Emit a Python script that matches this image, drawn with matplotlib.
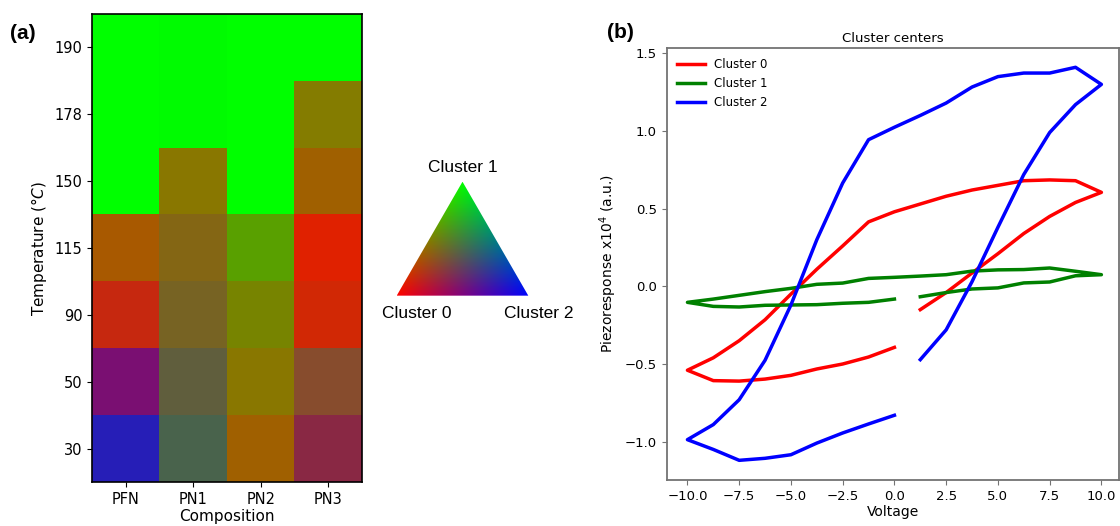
import numpy as np
import matplotlib
matplotlib.use('Agg')
import matplotlib.pyplot as plt
from matplotlib.patches import Polygon

# HEATMAP DATA (rows top to bottom follow temperatures)
compositions = ['PFN', 'PN1', 'PN2', 'PN3']
temperatures = ['190', '178', '150', '115', '90', '50', '30']

# fraction of each cluster per cell, one list per composition
cluster0_frac = {
    'PFN': [0.00, 0.00, 0.00, 0.66, 0.78, 0.48, 0.15],
    'PN1': [0.00, 0.00, 0.54, 0.52, 0.47, 0.38, 0.29],
    'PN2': [0.00, 0.00, 0.00, 0.35, 0.47, 0.54, 0.63],
    'PN3': [0.00, 0.52, 0.63, 0.88, 0.82, 0.53, 0.54],
}
cluster1_frac = {
    'PFN': [1.00, 1.00, 1.00, 0.35, 0.16, 0.06, 0.12],
    'PN1': [0.985, 0.985, 0.47, 0.40, 0.39, 0.37, 0.39],
    'PN2': [1.00, 1.00, 1.00, 0.63, 0.52, 0.47, 0.38],
    'PN3': [1.00, 0.49, 0.38, 0.13, 0.16, 0.30, 0.16],
}
cluster2_frac = {
    'PFN': [0.00, 0.00, 0.00, 0.00, 0.06, 0.45, 0.72],
    'PN1': [0.005, 0.005, 0.00, 0.08, 0.14, 0.24, 0.30],
    'PN2': [0.00, 0.00, 0.00, 0.00, 0.00, 0.00, 0.00],
    'PN3': [0.00, 0.00, 0.00, 0.00, 0.02, 0.18, 0.27],
}

# CLUSTER CENTER LOOPS
voltage = [1.25, 2.5, 3.75, 5.0, 6.25, 7.5, 8.75, 10.0,
           8.75, 7.5, 6.25, 5.0, 3.75, 2.5, 1.25, 0.0,
           -1.25, -2.5, -3.75, -5.0, -6.25, -7.5, -8.75, -10.0,
           -8.75, -7.5, -6.25, -5.0, -3.75, -2.5, -1.25, 0.0]
cluster0 = [-0.15, -0.04, 0.086, 0.21, 0.34, 0.45, 0.54, 0.605,
            0.68, 0.685, 0.68, 0.65, 0.62, 0.58, 0.53, 0.48,
            0.415, 0.26, 0.11, -0.05, -0.215, -0.35, -0.46, -0.54,
            -0.607, -0.61, -0.597, -0.573, -0.532, -0.50, -0.455, -0.393]
cluster1 = [-0.067, -0.04, -0.017, -0.01, 0.022, 0.028, 0.068, 0.075,
            0.097, 0.118, 0.108, 0.106, 0.098, 0.075, 0.066, 0.058,
            0.051, 0.021, 0.013, -0.013, -0.034, -0.058, -0.082, -0.103,
            -0.129, -0.133, -0.122, -0.12, -0.118, -0.109, -0.103, -0.082]
cluster2 = [-0.472, -0.28, 0.03, 0.38, 0.72, 0.99, 1.17, 1.30,
            1.41, 1.373, 1.373, 1.35, 1.283, 1.18, 1.10, 1.024,
            0.944, 0.665, 0.30, -0.12, -0.476, -0.73, -0.89, -0.987,
            -1.05, -1.12, -1.107, -1.084, -1.009, -0.944, -0.886, -0.83]

fig = plt.figure(figsize=(11.2, 5.26), dpi=100)

# (a) composition / temperature map
ax1 = fig.add_axes([0.0824, 0.0837, 0.2405, 0.8897])
rgb = np.zeros((len(temperatures), len(compositions), 3))
for j, comp in enumerate(compositions):
    rgb[:, j, 0] = cluster0_frac[comp]
    rgb[:, j, 1] = cluster1_frac[comp]
    rgb[:, j, 2] = cluster2_frac[comp]
ax1.imshow(np.clip(rgb, 0, 1), aspect='auto', interpolation='nearest')
ax1.set_xticks(range(len(compositions)))
ax1.set_xticklabels(compositions, fontsize=10.5)
ax1.set_yticks(range(len(temperatures)))
ax1.set_yticklabels(temperatures, fontsize=10.5)
ax1.set_xlabel('Composition', fontsize=11, labelpad=2)
ax1.set_ylabel(r'Temperature ($\degree C$)', fontsize=11)
for s in ax1.spines.values():
    s.set_linewidth(1.2)
fig.text(0.020, 0.937, '(a)', fontsize=15, fontweight='bold',
         family='Liberation Sans', ha='center', va='center')

# ternary colour key
ax_key = fig.add_axes([370 / 1120, 186 / 526, 220 / 1120, 200 / 526])
ax_key.axis('off')
h = np.sqrt(3) / 2
gx, gy = np.meshgrid(np.linspace(0, 1, 400), np.linspace(0, h, 350))
w1 = gy / h
w2 = gx - 0.5 * w1
w0 = 1 - w1 - w2
tri_img = np.clip(np.dstack([w0, w1, w2]), 0, 1)
im = ax_key.imshow(tri_img, origin='lower', extent=[0, 1, 0, h],
                   interpolation='bilinear')
tri = Polygon([[0, 0], [1, 0], [0.5, h]], closed=True, facecolor='none',
              edgecolor='none', transform=ax_key.transData)
ax_key.add_patch(tri)
im.set_clip_path(tri)
ax_key.set_xlim(-0.203, 1.469)
ax_key.set_ylim(-0.337, 1.183)
key_font = dict(fontsize=12.5, family='Liberation Sans', ha='center', va='center')
ax_key.text(0.5, 0.976, 'Cluster 1', **key_font)
ax_key.text(0.152, -0.134, 'Cluster 0', **key_font)
ax_key.text(1.076, -0.134, 'Cluster 2', **key_font)

# (b) cluster centers
ax2 = fig.add_axes([0.5953, 0.0875, 0.4038, 0.8219])
ax2.plot(voltage, cluster0, color='red', lw=2.5, label='Cluster 0')
ax2.plot(voltage, cluster1, color='green', lw=2.5, label='Cluster 1')
ax2.plot(voltage, cluster2, color='blue', lw=2.5, label='Cluster 2')
ax2.set_xlim(-11, 10.85)
ax2.set_xticks([-10, -7.5, -5, -2.5, 0, 2.5, 5, 7.5, 10])
ax2.set_yticks([-1.0, -0.5, 0.0, 0.5, 1.0, 1.5])
ax2.tick_params(labelsize=9.5, color='0.45')
for s in ax2.spines.values():
    s.set_color('0.45')
    s.set_linewidth(1.3)
ax2.set_title('Cluster centers', fontsize=9.5, pad=4)
ax2.set_xlabel('Voltage', fontsize=10, labelpad=2)
ax2.set_ylabel('Piezoresponse x10$^4$ (a.u.)', fontsize=10)
ax2.legend(loc='upper left', frameon=False, fontsize=8.5, handlelength=2.3)
fig.text(620 / 1120, 1 - 33 / 526, '(b)', fontsize=15, fontweight='bold',
         family='Liberation Sans', ha='center', va='center')

fig.savefig('out.png', dpi=100)
